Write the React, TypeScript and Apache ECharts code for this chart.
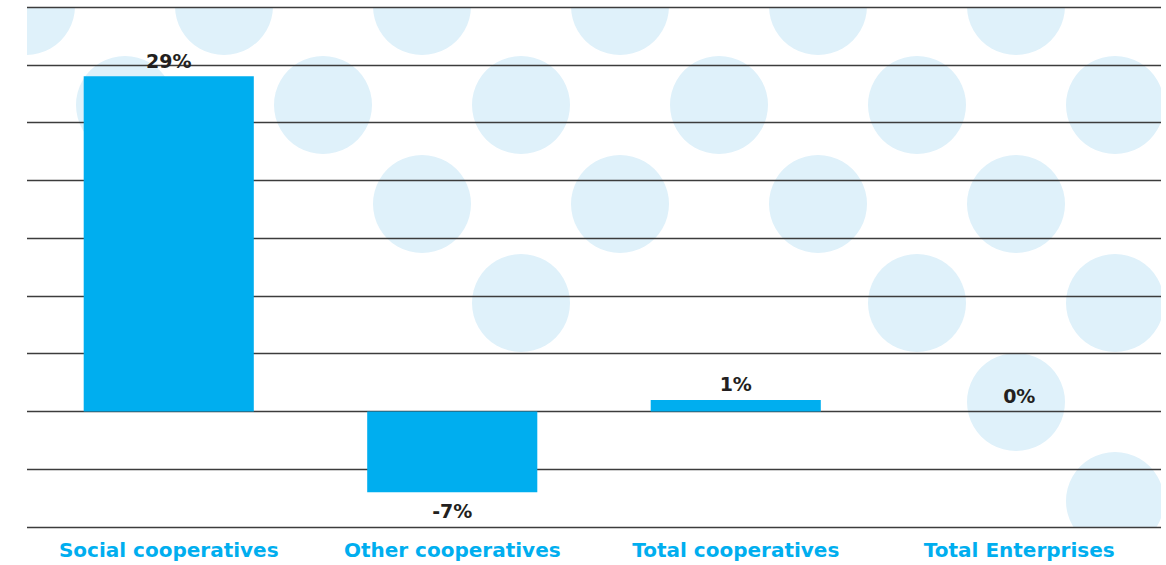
import React, { useEffect, useRef } from "react";
import * as echarts from "echarts";

const categories = ["Social cooperatives", "Other cooperatives", "Total cooperatives", "Total Enterprises"];
const values = [29, -7, 1, 0];
const yMin = -10;
const yMax = 35;
const yInterval = 5;

// decorative dot pattern cells [column, row] on a diagonal lattice
const dotCells = [
  [0, 0], [2, 0], [4, 0], [6, 0], [8, 0], [10, 0],
  [1, 1], [3, 1], [5, 1], [7, 1], [9, 1], [11, 1],
  [4, 2], [6, 2], [8, 2], [10, 2],
  [5, 3], [9, 3], [11, 3],
  [10, 4],
  [11, 5],
];

const FONT = "'DejaVu Sans', 'Open Sans', sans-serif";

export default function App() {
  const ref = useRef<HTMLDivElement>(null);
  useEffect(() => {
    if (!ref.current) return;
    const chart = echarts.init(ref.current, null, { renderer: "svg" });
    chart.setOption({
      animation: false,
      backgroundColor: "#ffffff",
      grid: { left: 27, right: 5, top: 7, bottom: 38, containLabel: false },
      xAxis: {
        type: "category",
        data: categories,
        axisLine: { show: false },
        axisTick: { show: false },
        axisLabel: {
          color: "#00aeef",
          fontFamily: FONT,
          fontWeight: 700,
          fontSize: 20,
          margin: 13,
          interval: 0,
        },
      },
      yAxis: {
        type: "value",
        min: yMin,
        max: yMax,
        interval: yInterval,
        axisLabel: { show: false },
        axisLine: { show: false },
        axisTick: { show: false },
        splitLine: { show: true, lineStyle: { color: "#3c3c3c", width: 1.3 } },
      },
      series: [
        {
          type: "custom",
          z: -1,
          clip: true,
          silent: true,
          data: [0],
          renderItem: (params: any, api: any) => {
            const cs = params.coordSys;
            const step = 99;
            const r = 49;
            return {
              type: "group",
              children: dotCells.map(([i, j]) => ({
                type: "circle",
                shape: { cx: cs.x - 1 + step * i, cy: cs.y - 1 + step * j, r },
                style: { fill: "#dff1fa" },
              })),
            };
          },
        },
        {
          type: "bar",
          z: 2,
          data: values.map((v) => ({
            value: v,
            label: v < 0 ? { position: "bottom", distance: 9 } : { position: "top", distance: 6 },
          })),
          barWidth: "60%",
          itemStyle: { color: "#00aeef" },
          label: {
            show: true,
            formatter: "{c}%",
            color: "#231f20",
            fontFamily: FONT,
            fontWeight: 700,
            fontSize: 19,
          },
        },
      ],
    });
    return () => chart.dispose();
  }, []);
  return (
    <div
      ref={ref}
      style={{ position: "fixed", left: 0, top: 0, width: 1166, height: 565 }}
    />
  );
}
